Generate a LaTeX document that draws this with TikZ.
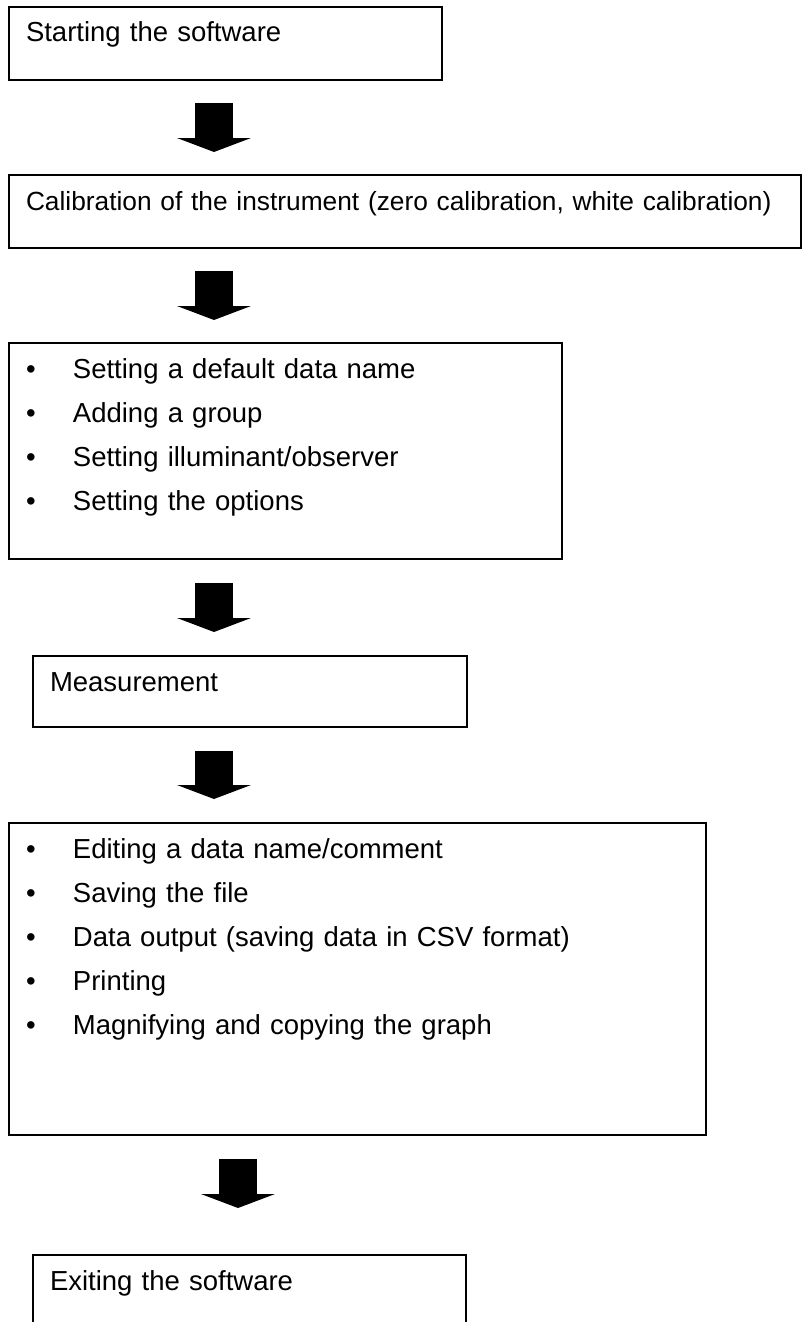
\documentclass[tikz,border=0pt]{standalone}
\usepackage{fontspec}
\setmainfont{Liberation Sans}
\usetikzlibrary{positioning, arrows.meta}
\tikzset{
    x=1pt, y=1pt, % one unit is one pixel of the page
    every node/.style={outer sep=0pt},
    box/.style={draw, line width=1.5pt, inner xsep=17pt, inner ysep=0pt, align=left, text height=35pt, font=\fontsize{27.5pt}{44pt}\selectfont}, % one step of the procedure
    flow/.style={line width=38pt, -{Triangle[width=74pt, length=14pt, line width=0pt]}, shorten <=23pt, shorten >=23pt}, % the thick block arrows
}
\newcommand{\bulletline}[1]{\makebox[47pt][l]{\textbullet}#1}

\begin{document}
\begin{tikzpicture}
    \useasboundingbox (0,0) rectangle (802,-1322);
    \coordinate (axis) at (214,0);
    \coordinate (axisb) at (238,0);
    \node[box, text width=399pt, text depth=38pt, anchor=north west] (start) at (9,-7) {Starting the software};
    \node[box, text width=758pt, text depth=38pt, below right=95pt and 0pt of start.south west, font=\fontsize{26.3pt}{44pt}\selectfont] (calib) {Calibration of the instrument (zero calibration, white calibration)};
    \node[box, text width=519pt, text depth=181pt, below right=95pt and 0pt of calib.south west] (opts) {\bulletline{Setting a default data name}\\ \bulletline{Adding a group}\\ \bulletline{Setting illuminant/observer}\\ \bulletline{Setting the options}};
    \node[box, text width=400pt, text depth=36pt, below right=97pt and 24pt of opts.south west] (measure) {Measurement};
    \node[box, text width=663pt, text depth=277pt, below right=96pt and -24pt of measure.south west] (output) {\bulletline{Editing a data name/comment}\\ \bulletline{Saving the file}\\ \bulletline{Data output (saving data in CSV format)}\\ \bulletline{Printing}\\ \bulletline{Magnifying and copying the graph}};
    \node[box, text width=399pt, text depth=38pt, below right=120pt and 24pt of output.south west] (exit) {Exiting the software};
    \draw[flow] (start.south -| axis) -- (calib.north -| axis);
    \draw[flow] (calib.south -| axis) -- (opts.north -| axis);
    \draw[flow, shorten <=24pt, shorten >=24pt] (opts.south -| axis) -- (measure.north -| axis);
    \draw[flow, shorten <=24pt, shorten >=24pt] (measure.south -| axis) -- (output.north -| axis);
    \draw[flow, shorten <=24pt, shorten >=47pt] (output.south -| axisb) -- (exit.north -| axisb);
\end{tikzpicture}
\end{document}
